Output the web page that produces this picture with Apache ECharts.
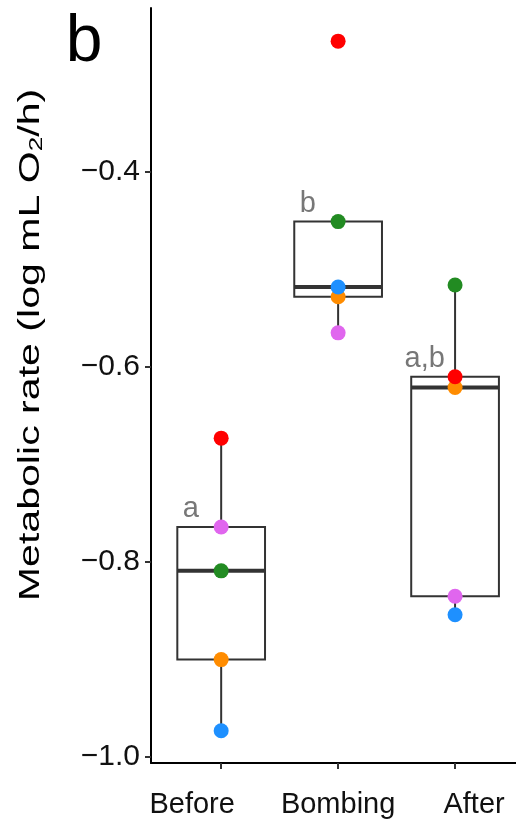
<!DOCTYPE html>
<html>
<head>
<meta charset="utf-8">
<script src="https://cdn.jsdelivr.net/npm/echarts@6/dist/echarts.min.js"></script>
<style>
  html, body { margin: 0; padding: 0; background: #fff; }
  #chart { width: 516px; height: 819px; }
</style>
</head>
<body>
<div id="chart"></div>
<script>
// periods on the x axis
var periods = ['Before', 'Bombing', 'After'];
// one array per individual, values for Before / Bombing / After
var redPts    = [-0.673, -0.266, -0.610];
var violetPts = [-0.764, -0.565, -0.835];
var greenPts  = [-0.809, -0.451, -0.516];
var orangePts = [-0.900, -0.528, -0.621];
var bluePts   = [-0.973, -0.518, -0.854];
// group letters above each box
var letters = ['a', 'b', 'a,b'];
var yTicks = [-1.0, -0.8, -0.6, -0.4];

var FONT = 'Liberation Sans, Arial, sans-serif';

// quantile type 7 (same as R default)
function quantile(asc, p) {
    var h = (asc.length - 1) * p;
    var lo = Math.floor(h);
    var e = h - lo;
    if (lo + 1 >= asc.length) return asc[lo];
    return asc[lo] + e * (asc[lo + 1] - asc[lo]);
}

// box stats like ggplot: whiskers to furthest point inside 1.5 IQR
function boxStats(vals) {
    var asc = vals.slice().sort(function (a, b) { return a - b; });
    var q1 = quantile(asc, 0.25), med = quantile(asc, 0.5), q3 = quantile(asc, 0.75);
    var iqr = q3 - q1;
    var inside = asc.filter(function (v) { return v >= q1 - 1.5 * iqr && v <= q3 + 1.5 * iqr; });
    return [inside[0], q1, med, q3, inside[inside.length - 1]];
}

var individuals = [
    {name: 'orange', color: '#FF8C00', vals: orangePts},
    {name: 'violet', color: '#E066EE', vals: violetPts},
    {name: 'blue',   color: '#1E90FF', vals: bluePts},
    {name: 'green',  color: '#228B22', vals: greenPts},
    {name: 'red',    color: '#FF0000', vals: redPts}
];

var boxData = periods.map(function (p, i) {
    var vals = individuals.map(function (d) { return d.vals[i]; });
    return [i + 1].concat(boxStats(vals));
});

function renderBox(params, api) {
    var x = api.value(0);
    var lo = api.value(1), q1 = api.value(2), med = api.value(3), q3 = api.value(4), hi = api.value(5);
    var half = 0.375;
    var pTop = api.coord([x, q3]);
    var pBot = api.coord([x, q1]);
    var pL = api.coord([x - half, q3]);
    var pR = api.coord([x + half, q1]);
    var pMedL = api.coord([x - half, med]);
    var pMedR = api.coord([x + half, med]);
    var pHi = api.coord([x, hi]);
    var pLo = api.coord([x, lo]);
    var pTxt = api.coord([x - 0.26, q3]);
    var lineStyle = {stroke: '#333333', lineWidth: 2};
    return {
        type: 'group',
        children: [
            {type: 'line', shape: {x1: pTop[0], y1: pTop[1], x2: pHi[0], y2: pHi[1]}, style: lineStyle},
            {type: 'line', shape: {x1: pBot[0], y1: pBot[1], x2: pLo[0], y2: pLo[1]}, style: lineStyle},
            {type: 'rect', shape: {x: pL[0], y: pL[1], width: pR[0] - pL[0], height: pR[1] - pL[1]},
                style: {fill: '#fff', stroke: '#333333', lineWidth: 2}},
            {type: 'line', shape: {x1: pMedL[0], y1: pMedL[1], x2: pMedR[0], y2: pMedR[1]},
                style: {stroke: '#333333', lineWidth: 4}},
            {type: 'text', style: {
                text: letters[params.dataIndex], x: pTxt[0], y: pTxt[1] - 3,
                align: 'center', verticalAlign: 'bottom',
                fontSize: 29, fontFamily: FONT, fill: '#777777'
            }}
        ]
    };
}

var series = [{
    type: 'custom',
    renderItem: renderBox,
    data: boxData,
    z: 1,
    silent: true
}];
individuals.forEach(function (d, k) {
    series.push({
        name: d.name,
        type: 'scatter',
        symbolSize: 15,
        itemStyle: {color: d.color, opacity: 1},
        data: d.vals.map(function (v, i) { return [i + 1, v]; }),
        z: 2 + k
    });
});

var labelStyle = {fontSize: 29, fontFamily: FONT, color: '#111'};
var myChart = echarts.init(document.getElementById('chart'));
var option = {
    animation: false,
    backgroundColor: '#fff',
    grid: {left: 151, right: 0, top: 8, bottom: 56},
    xAxis: {
        type: 'value',
        min: 0.4,
        max: 3.521,
        splitLine: {show: false},
        axisLine: {lineStyle: {color: '#000', width: 2}},
        axisTick: {show: true, customValues: [1, 2, 3], length: 6, lineStyle: {color: '#333', width: 2}},
        axisLabel: {
            customValues: [1, 2, 3],
            formatter: function (v) {
                var i = Math.round(v) - 1;
                return '{p' + i + '|' + periods[i] + '}';
            },
            rich: {
                p0: Object.assign({padding: [0, 58, 0, 0]}, labelStyle),
                p1: Object.assign({}, labelStyle),
                p2: Object.assign({padding: [0, 0, 0, 38]}, labelStyle)
            },
            fontSize: 29, fontFamily: FONT, color: '#111', margin: 27
        }
    },
    yAxis: {
        type: 'value',
        min: -1.006,
        max: -0.232,
        splitLine: {show: false},
        axisLine: {show: true, lineStyle: {color: '#000', width: 2}},
        axisTick: {show: true, customValues: yTicks, length: 6, lineStyle: {color: '#333', width: 2}},
        axisLabel: {
            customValues: yTicks,
            formatter: function (v) { return (v < 0 ? '\u2212' : '') + Math.abs(v).toFixed(1); },
            fontSize: 30, fontFamily: FONT, color: '#111', margin: 11
        }
    },
    graphic: [
        {
            type: 'text', x: 84, y: 43,
            style: {text: 'b', align: 'center', verticalAlign: 'middle', fontSize: 66, fontFamily: FONT, fill: '#000'}
        },
        {
            type: 'text', x: 31, y: 345, rotation: Math.PI / 2, scaleX: 1.37,
            style: {
                text: '{n|Metabolic rate (log mL O}{s|2}{n|/h)}',
                align: 'center', verticalAlign: 'middle',
                rich: {
                    n: {fontSize: 30, fontFamily: FONT, fill: '#000'},
                    s: {fontSize: 19, fontFamily: FONT, fill: '#000', verticalAlign: 'bottom'}
                }
            }
        }
    ],
    series: series
};
myChart.setOption(option);
window.onresize = function () { myChart.resize(); };
</script>
</body>
</html>
